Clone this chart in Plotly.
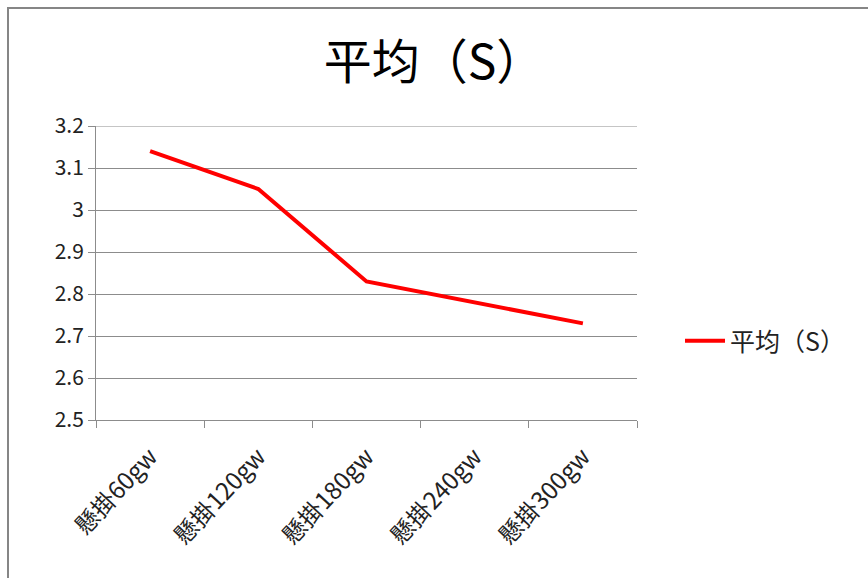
import plotly.graph_objects as go

categories = ["懸掛60gw", "懸掛120gw", "懸掛180gw", "懸掛240gw", "懸掛300gw"]
avg_values = [3.14, 3.05, 2.83, 2.78, 2.73]
series_name = "平均（S）"
y_ticks = [2.5, 2.6, 2.7, 2.8, 2.9, 3.0, 3.1, 3.2]
y_tick_text = ["2.5", "2.6", "2.7", "2.8", "2.9", "3", "3.1", "3.2"]

W, H = 868, 578
L, R, T, B = 96, 637, 126, 420  # plot area in pixels

FONT = "Noto Sans CJK SC, Noto Sans, sans-serif"
GRID = "#8c8c8c"
TEXT = "#222222"

fig = go.Figure()
fig.add_trace(go.Scatter(
    x=categories, y=avg_values, mode="lines", name=series_name,
    line=dict(color="#ff0000", width=4),
))


def px_x(p):
    return (p - L) / (R - L)


def px_y(p):
    return (B - p) / (B - T)


fig.update_layout(
    width=W, height=H,
    margin=dict(l=L, r=W - R, t=T, b=H - B, autoexpand=False),
    paper_bgcolor="white", plot_bgcolor="white",
    font=dict(family=FONT, color=TEXT),
    title=dict(text="平均（S）", x=0.5, xref="container", xanchor="center",
               y=1 - 62 / H, yref="container", yanchor="middle",
               font=dict(size=48, family=FONT, color="black")),
    showlegend=True,
    legend=dict(x=px_x(680), y=px_y(341), xanchor="left", yanchor="middle",
                font=dict(size=25, family=FONT, color=TEXT),
                bgcolor="rgba(0,0,0,0)", itemwidth=40),
    xaxis=dict(
        type="category", tickson="boundaries", ticks="outside", ticklen=7,
        tickcolor=GRID, tickwidth=1, showgrid=False,
        showline=True, linecolor=GRID, linewidth=1,
        tickangle=-47, tickfont=dict(size=24, family=FONT, color=TEXT),
        ticklabelstandoff=12,
        range=[-0.5, 4.5],
    ),
    yaxis=dict(
        range=[y_ticks[0], y_ticks[-1]], tickvals=y_ticks, ticktext=y_tick_text,
        ticks="outside", ticklen=7, tickcolor=GRID, tickwidth=1,
        showgrid=True, gridcolor=GRID, gridwidth=1,
        showline=True, linecolor=GRID, linewidth=1, zeroline=False,
        tickfont=dict(size=21, family=FONT, color=TEXT),
    ),
    shapes=[
        # gridline at the top of the value range (plotly skips the edge one)
        dict(type="line", xref="paper", yref="y", x0=0, x1=1,
             y0=y_ticks[-1], y1=y_ticks[-1],
             line=dict(color=GRID, width=1), layer="below"),
        # outer chart frame
        dict(type="rect", xref="paper", yref="paper",
             x0=px_x(8), x1=px_x(W + 10), y0=px_y(H + 10), y1=px_y(8),
             line=dict(color="#868686", width=2), fillcolor="rgba(0,0,0,0)",
             layer="below"),
    ],
)

fig.write_html("out.html")
